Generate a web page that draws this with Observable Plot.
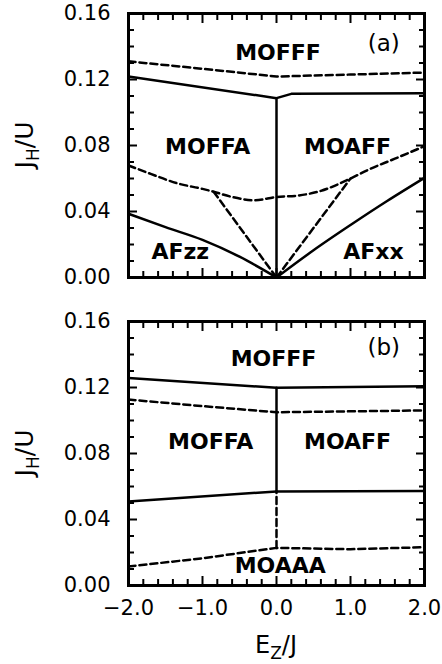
<!DOCTYPE html>
<html>
<head>
<meta charset="utf-8">
<script src="https://cdn.jsdelivr.net/npm/d3@7"></script>
<script src="https://cdn.jsdelivr.net/npm/@observablehq/plot@0.6"></script>
<style>
  html, body { margin: 0; padding: 0; background: white; }
  #chart svg { display: block; }
</style>
</head>
<body>
<div id="chart"></div>
<script>
// ---------- data (x = E_z/J, y = J_H/U) ----------
// Panel (a)
const aDashTop   = [[-2, 0.1310], [-1, 0.1265], [0, 0.1218], [1, 0.1230], [2, 0.1242]];
const aSolidTop  = [[-2, 0.1218], [0, 0.1087], [0.2, 0.1113], [2, 0.1117]];
const aSolidVert = [[0, 0], [0, 0.1087]];
const aDashMid   = [[-2, 0.0679], [-1.7, 0.0628], [-1.35, 0.0572], [-1.0, 0.0537], [-0.85, 0.0520],
                    [-0.6, 0.0488], [-0.3, 0.0468], [0, 0.0488], [0.3, 0.0497], [0.6, 0.0525],
                    [1.0, 0.0600], [1.25, 0.0655], [1.6, 0.0720], [2, 0.0796]];
const aDashLeft  = [[-0.85, 0.0520], [0, 0]];
const aDashRight = [[0, 0], [1.0, 0.0600]];
const aSolidLeft = [[-2, 0.0386], [-1.5, 0.0305], [-1, 0.0228], [-0.5, 0.0126], [0, 0]];
const aSolidRight= [[0, 0], [0.5, 0.0165], [1, 0.0318], [1.5, 0.0465], [2, 0.0604]];

// Panel (b)
const bSolidTop  = [[-2, 0.1257], [0, 0.1198], [2, 0.1208]];
const bDashTop   = [[-2, 0.1127], [-1, 0.1087], [0, 0.1050], [2, 0.1061]];
const bSolidVert = [[0, 0.0570], [0, 0.1198]];
const bSolidLow  = [[-2, 0.0509], [0, 0.0570], [2, 0.0572]];
const bDashVert  = [[0, 0.0228], [0, 0.0570]];
const bDashLow   = [[-2, 0.0115], [-1, 0.0165], [0, 0.0228], [1, 0.0220], [2, 0.0232]];

// Region labels
const aLabels = [
  {t: "MOFFF", x: 0.02, y: 0.1358},
  {t: "MOFFA", x: -0.93, y: 0.0794},
  {t: "MOAFF", x: 0.96, y: 0.0794},
  {t: "AFzz", x: -1.30, y: 0.0152},
  {t: "AFxx", x: 1.31, y: 0.0152}
];
const bLabels = [
  {t: "MOFFF", x: -0.04, y: 0.1376},
  {t: "MOFFA", x: -0.89, y: 0.0873},
  {t: "MOAFF", x: 0.96, y: 0.0873},
  {t: "MOAAA", x: 0.05, y: 0.0121}
];
const aTag = [{t: "(a)", x: 1.45, y: 0.1420}];
const bTag = [{t: "(b)", x: 1.45, y: 0.1440}];

// Ticks
const xDomain = [-2, 2];
const yDomain = [0, 0.16];
const xTicks = [-2, -1, 0, 1, 2];
const xMajorInner = [-1, 0, 1];
const xMinor = [-1.8, -1.6, -1.4, -1.2, -0.8, -0.6, -0.4, -0.2, 0.2, 0.4, 0.6, 0.8, 1.2, 1.4, 1.6, 1.8];
const yTicks = [0, 0.04, 0.08, 0.12, 0.16];
const yMajorInner = [0.04, 0.08, 0.12];
const yMinor = [0.01, 0.02, 0.03, 0.05, 0.06, 0.07, 0.09, 0.10, 0.11, 0.13, 0.14, 0.15];

// ---------- drawing ----------
const W = 442, ML = 128, MR = 18, PH = 264;
const PW = W - ML - MR;
const font = "DejaVu Sans";
const lw = 2.5;
const dash = "7,4";
const minorLen = 6, majorLen = 9;

function line(data, dashed, curve = "linear") {
  return Plot.line(data, {x: d => d[0], y: d => d[1], stroke: "black", strokeWidth: lw,
    strokeDasharray: dashed ? dash : null, curve, strokeLinejoin: "round"});
}

// inward ticks on all four sides (negative tickSize points into the frame)
function tickMarks() {
  const out = [];
  for (const [vals, len] of [[yMinor, minorLen], [yMajorInner, majorLen]]) {
    for (const anchor of ["left", "right"]) {
      out.push(Plot.axisY(vals, {anchor, tickSize: -len, text: null, label: null,
        stroke: "black", strokeWidth: 2, strokeLinecap: "butt"}));
    }
  }
  for (const [vals, len] of [[xMinor, minorLen], [xMajorInner, majorLen]]) {
    for (const anchor of ["top", "bottom"]) {
      out.push(Plot.axisX(vals, {anchor, tickSize: -len, text: null, label: null,
        stroke: "black", strokeWidth: 2, strokeLinecap: "butt"}));
    }
  }
  return out;
}

function panel({marginTop, marginBottom, lines, labels, tag, xAxis}) {
  return Plot.plot({
    width: W,
    height: marginTop + PH + marginBottom,
    marginLeft: ML, marginRight: MR, marginTop, marginBottom,
    style: {fontFamily: font, background: "white", color: "black"},
    x: {domain: xDomain, axis: null},
    y: {domain: yDomain, axis: null},
    marks: [
      ...lines,
      ...tickMarks(),
      Plot.frame({stroke: "black", strokeWidth: 3}),
      Plot.axisY(yTicks, {anchor: "left", tickSize: 0, tickPadding: 18, fontSize: 21, label: null,
        tickFormat: d => d.toFixed(2)}),
      xAxis ? Plot.axisX(xTicks, {anchor: "bottom", tickSize: 0, tickPadding: 15, fontSize: 21, label: null,
        tickFormat: d => d.toFixed(1).replace("-", "\u2212")}) : null,
      Plot.text(labels, {x: "x", y: "y", text: "t", fontSize: 22, fontWeight: "bold", fill: "black"}),
      Plot.text(tag, {x: "x", y: "y", text: "t", fontSize: 23, fill: "black"})
    ]
  });
}

const pa = panel({
  marginTop: 13, marginBottom: 22, xAxis: false,
  lines: [
    line(aDashTop, true), line(aSolidTop, false), line(aSolidVert, false),
    line(aDashMid, true, "monotone-x"), line(aDashLeft, true), line(aDashRight, true),
    line(aSolidLeft, false, "monotone-x"), line(aSolidRight, false, "monotone-x")
  ],
  labels: aLabels, tag: aTag
});

const pb = panel({
  marginTop: 22, marginBottom: 79, xAxis: true,
  lines: [
    line(bSolidTop, false), line(bDashTop, true), line(bSolidVert, false),
    line(bSolidLow, false), line(bDashVert, true), line(bDashLow, true)
  ],
  labels: bLabels, tag: bTag
});

function yLabel(svg, cy) {
  const t = d3.select(svg).append("text")
    .attr("transform", `translate(33,${cy}) rotate(-90)`)
    .attr("text-anchor", "middle")
    .attr("font-family", font).attr("font-size", 25).attr("fill", "black");
  t.append("tspan").text("J");
  t.append("tspan").attr("font-size", 17).attr("dy", 6).text("H");
  t.append("tspan").attr("dy", -6).text("/U");
}
yLabel(pa, 13 + PH / 2);
yLabel(pb, 22 + PH / 2);

{
  const t = d3.select(pb).append("text")
    .attr("x", ML + PW / 2).attr("y", 22 + PH + 68)
    .attr("text-anchor", "middle")
    .attr("font-family", font).attr("font-size", 24).attr("fill", "black");
  t.append("tspan").text("E");
  t.append("tspan").attr("font-size", 17).attr("dy", 6).text("Z");
  t.append("tspan").attr("dy", -6).text("/J");
}

document.getElementById("chart").append(pa, pb);
</script>
</body>
</html>
